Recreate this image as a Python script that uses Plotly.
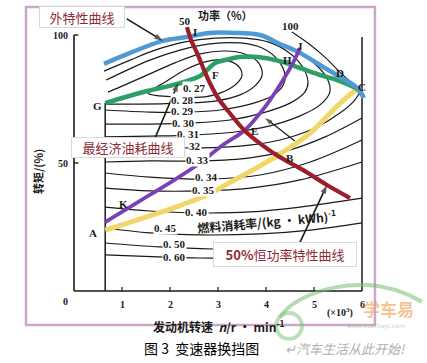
import plotly.graph_objects as go

# ---------------- data (x: engine speed x10^3 r/min, y: torque %) ----------------
blue_x = [0.625, 1.17, 1.85, 2.35, 2.83, 3.31, 3.875, 4.29, 4.71, 5.125, 5.54, 5.90, 6.04]
blue_y = [88.7, 93.0, 97.7, 99.2, 100.8, 100.8, 100.0, 96.5, 93.0, 88.3, 83.6, 79.3, 75.4]

green_x = [0.65, 1.52, 2.15, 2.625, 2.77, 2.94, 3.15, 3.46, 3.83, 4.29, 4.71, 5.125, 5.54, 5.90, 6.02]
green_y = [73.4, 78.1, 80.9, 84.0, 86.3, 89.1, 90.2, 91.4, 91.4, 89.8, 87.1, 84.4, 82.0, 78.9, 76.2]

red_x = [2.354, 2.44, 2.5625, 2.71, 2.83, 3.0, 3.21, 3.5625, 3.92, 4.29, 4.77, 5.27, 5.75]
red_y = [103.1, 98.0, 93.0, 86.3, 81.25, 75.4, 70.3, 62.5, 57.0, 52.3, 47.3, 41.4, 36.3]

purple_x = [0.65, 1.375, 2.06, 2.625, 3.10, 3.5625, 3.98, 4.29, 4.54, 4.71]
purple_y = [26.95, 35.2, 43.0, 50.0, 57.0, 62.9, 71.9, 80.5, 88.3, 94.9]

yellow_x = [0.65, 1.375, 2.06, 2.77, 3.31, 3.83, 4.29, 4.92, 5.40, 5.69, 5.96]
yellow_y = [23.8, 28.1, 32.4, 37.5, 43.0, 48.4, 53.5, 61.7, 70.7, 75.8, 79.7]

power100_x = [4.54, 4.9, 5.25, 5.6, 5.85]
power100_y = [101.2, 96.5, 91.0, 84.4, 80.5]

# fuel consumption contours (kg/kWh)
c027_x = [1.54, 1.79, 2.21, 2.73, 3.15, 3.42, 3.5, 3.42, 3.15, 2.73, 2.31, 1.90, 1.54]
c027_y = [77.3, 76.2, 75.8, 75.8, 78.1, 81.6, 84.4, 87.9, 90.2, 89.5, 86.3, 81.6, 77.3]
c028_x = [0.65, 1.375, 2.21, 2.94, 3.46, 3.77, 3.92, 3.83, 3.56, 3.15, 2.625, 2.10, 1.58, 1.06, 0.71]
c028_y = [73.0, 73.0, 73.4, 74.2, 76.6, 80.1, 84.4, 89.5, 92.6, 93.75, 92.6, 89.1, 84.8, 80.5, 77.7]
c029_x = [0.65, 1.58, 2.31, 3.04, 3.67, 4.125, 4.35, 4.40, 4.25, 3.92, 3.46, 2.83, 2.21, 1.58, 1.06, 0.67]
c029_y = [70.7, 69.9, 69.9, 70.7, 73.0, 76.2, 80.1, 84.0, 90.2, 94.9, 96.9, 96.5, 94.1, 90.2, 85.9, 82.4]
c030_x = [0.65, 1.58, 2.42, 3.25, 3.92, 4.5, 4.81, 4.875, 4.75, 4.46, 4.04, 3.56, 2.94, 2.31, 1.69, 1.17, 0.625]
c030_y = [65.2, 65.2, 65.6, 66.8, 69.5, 73.4, 77.7, 81.6, 87.9, 93.4, 97.3, 98.8, 98.8, 97.3, 94.1, 90.2, 85.9]
c031_x = [0.65, 1.58, 2.42, 3.35, 4.08, 4.71, 5.125, 5.33, 5.27, 5.02, 4.71, 4.54]
c031_y = [60.2, 60.5, 60.9, 62.1, 64.5, 68.4, 72.7, 77.7, 83.2, 88.7, 92.6, 94.9]
c032_x = [0.65, 1.58, 2.52, 3.46, 4.29, 5.02, 5.54, 5.85, 5.98]
c032_y = [55.9, 55.9, 55.9, 56.6, 59.0, 63.7, 69.5, 74.6, 78.5]
c033_x = [0.65, 1.58, 2.69, 3.67, 4.5, 5.23, 6.0]
c033_y = [50.4, 50.8, 50.8, 52.0, 55.1, 60.2, 67.6]
c034_x = [0.65, 1.58, 2.83, 3.875, 4.92, 6.0]
c034_y = [46.1, 44.5, 43.75, 45.3, 50.4, 59.0]
c035_x = [0.65, 1.58, 2.625, 3.67, 4.71, 6.0]
c035_y = [40.2, 39.1, 39.1, 40.2, 43.4, 50.4]
c040_x = [0.65, 1.58, 2.56, 3.67, 4.71, 6.0]
c040_y = [32.8, 31.25, 30.5, 30.9, 32.8, 36.3]
c045_x = [0.65, 1.58, 2.625, 3.875, 4.92, 6.0]
c045_y = [24.6, 22.7, 21.9, 22.3, 23.8, 26.6]
c050_x = [0.65, 1.79, 2.90, 3.46]
c050_y = [18.75, 17.2, 16.4, 16.4]
c060_x = [0.65, 1.75, 2.625, 3.25]
c060_y = [14.1, 13.3, 12.9, 12.9]

contour_labels = ["0. 27", "0. 28", "0. 29", "0. 30", "0. 31", "32", "0. 33",
                  "0. 34", "0. 35", "0. 40", "0. 45", "0. 50", "0. 60"]
contour_label_x = [2.50, 2.25, 2.25, 2.29, 2.375, 2.52, 2.58, 2.77, 2.69, 2.56, 1.90, 2.10, 2.10]
contour_label_y = [79.3, 74.6, 70.3, 65.6, 61.3, 56.6, 51.2, 44.5, 39.5, 30.9, 24.6, 18.4, 13.3]

point_names = ["A", "B", "C", "D", "E", "F", "G", "H", "I", "J", "K"]
point_x = [0.40, 4.50, 6.00, 5.54, 3.77, 2.94, 0.48, 4.44, 2.52, 4.71, 1.04]
point_y = [22.7, 52.0, 79.7, 85.2, 62.5, 84.4, 72.3, 90.2, 101.2, 95.8, 34.0]

x_ticks = [1, 2, 3, 4, 5, 6]
y_ticks = [50, 100]
idle_speed = 0.65
max_speed = 6.0

# ---------------- figure ----------------
fig = go.Figure()
BLACK = "#1a1a1a"
contours = [(c027_x, c027_y), (c028_x, c028_y), (c029_x, c029_y), (c030_x, c030_y),
            (c031_x, c031_y), (c032_x, c032_y), (c033_x, c033_y), (c034_x, c034_y),
            (c035_x, c035_y), (c040_x, c040_y), (c045_x, c045_y), (c050_x, c050_y),
            (c060_x, c060_y)]
for cx, cy in contours:
    fig.add_trace(go.Scatter(x=cx, y=cy, mode="lines", line=dict(color=BLACK, width=1.2, shape="spline"),
                             hoverinfo="skip", showlegend=False))

fig.add_trace(go.Scatter(x=power100_x, y=power100_y, mode="lines",
                         line=dict(color=BLACK, width=1.1, shape="spline"), showlegend=False))

# axes lines
fig.add_trace(go.Scatter(x=[0, 0], y=[0, 100], mode="lines", line=dict(color=BLACK, width=1.6), showlegend=False))
fig.add_trace(go.Scatter(x=[0, max_speed], y=[0, 0], mode="lines", line=dict(color=BLACK, width=1.6), showlegend=False))
fig.add_trace(go.Scatter(x=[idle_speed, idle_speed], y=[0, green_y[0]], mode="lines",
                         line=dict(color=BLACK, width=1.5), showlegend=False))
fig.add_trace(go.Scatter(x=[max_speed, max_speed], y=[0, 99.2], mode="lines",
                         line=dict(color=BLACK, width=1.5), showlegend=False))
for t in x_ticks[:-1]:
    fig.add_trace(go.Scatter(x=[t, t], y=[0, 1.6], mode="lines", line=dict(color=BLACK, width=1.2), showlegend=False))
for t in y_ticks:
    fig.add_trace(go.Scatter(x=[0, 0.09], y=[t, t], mode="lines", line=dict(color=BLACK, width=1.4), showlegend=False))


def arrow(x0, y0, x1, y1, width, size):
    fig.add_trace(go.Scatter(x=[x0, x1], y=[y0, y1], mode="lines+markers",
                             line=dict(color=BLACK, width=width),
                             marker=dict(symbol=["circle", "arrow"], size=[0, size], angleref="previous",
                                         color=BLACK, line=dict(width=0)),
                             hoverinfo="skip", showlegend=False))


# direction arrow inside map
arrow(4.6, 58.6, 3.98, 67.6, 1.2, 8)

# coloured characteristic curves
fig.add_trace(go.Scatter(x=yellow_x, y=yellow_y, mode="lines", line=dict(color="#f2d66a", width=5, shape="spline"), showlegend=False))
fig.add_trace(go.Scatter(x=green_x, y=green_y, mode="lines", line=dict(color="#2ba066", width=4.6, shape="spline"), showlegend=False))
fig.add_trace(go.Scatter(x=blue_x, y=blue_y, mode="lines", line=dict(color="#4f9ad4", width=4.5, shape="spline"), showlegend=False))
fig.add_trace(go.Scatter(x=purple_x, y=purple_y, mode="lines", line=dict(color="#7b40b4", width=3.8, shape="spline"), showlegend=False))
fig.add_trace(go.Scatter(x=red_x, y=red_y, mode="lines", line=dict(color="#9b1f2b", width=4.2, shape="spline"), showlegend=False))

# callout arrows
arrow(1.10, 106.3, 1.854, 97.7, 1.6, 9)
arrow(1.69, 59.8, 2.17, 81.25, 1.6, 9)
arrow(4.71, 19.1, 5.27, 41.4, 1.6, 9)

ann = []
SERIF = "Liberation Serif"
CJK = "Noto Sans CJK SC"
for lab, lx, ly in zip(contour_labels, contour_label_x, contour_label_y):
    ann.append(dict(x=lx, y=ly, text="<b>%s</b>" % lab, showarrow=False, bgcolor="white", borderpad=0,
                    font=dict(family=SERIF, size=11, color=BLACK)))
for n, px, py in zip(point_names, point_x, point_y):
    ann.append(dict(x=px, y=py, text="<b>%s</b>" % n, showarrow=False,
                    font=dict(family=SERIF, size=11, color=BLACK)))

# tick labels
for t in x_ticks:
    ann.append(dict(x=t, y=-2.4, text="<b>%d</b>" % t, showarrow=False, yanchor="top",
                    font=dict(family=SERIF, size=10, color=BLACK)))
for t in y_ticks:
    ann.append(dict(x=-0.08, y=t, text="<b>%d</b>" % t, showarrow=False, xanchor="right",
                    font=dict(family=SERIF, size=10, color=BLACK)))
ann.append(dict(x=-0.08, y=-1.0, text="<b>0</b>", showarrow=False, xanchor="right", yanchor="top",
                font=dict(family=SERIF, size=10, color=BLACK)))
ann.append(dict(x=5.55, y=-5.0, text="<b>(×10<sup>3</sup>)</b>", showarrow=False, yanchor="top",
                font=dict(family=SERIF, size=10, color=BLACK)))
ann.append(dict(x=3.0, y=-9.3, text="<b>发动机转速  <i>n</i>/r · min<sup>-1</sup></b>", showarrow=False,
                yanchor="top", font=dict(family=CJK, size=12, color=BLACK)))
ann.append(dict(x=-0.75, y=46.5, text="<b>转矩/(%)</b>", showarrow=False, textangle=-90,
                font=dict(family=CJK, size=11, color=BLACK)))
ann.append(dict(x=3.15, y=107.8, text="<b>功率（%）</b>", showarrow=False,
                font=dict(family=CJK, size=11, color=BLACK)))
ann.append(dict(x=2.31, y=105.3, text="<b>50</b>", showarrow=False,
                font=dict(family=SERIF, size=11, color=BLACK)))
ann.append(dict(x=4.50, y=103.6, text="<b>100</b>", showarrow=False,
                font=dict(family=SERIF, size=11, color=BLACK)))
ann.append(dict(x=4.0, y=27.4, text="<b>燃料消耗率/(kg · kWh)<sup>-1</sup></b>", showarrow=False, textangle=-5,
                font=dict(family=CJK, size=12, color=BLACK)))

# callout boxes
DARKRED = "#8e2b36"
ann.append(dict(x=0.17, y=107.0, text="外特性曲线", showarrow=False, width=82, height=18,
                bgcolor="white", bordercolor="#d9d9d9", borderwidth=1,
                font=dict(family=CJK, size=13, color=DARKRED)))
ann.append(dict(x=1.125, y=56.2, text="最经济油耗曲线", showarrow=False, width=110, height=17,
                bgcolor="white", bordercolor="#d9d9d9", borderwidth=1,
                font=dict(family=CJK, size=13, color=DARKRED)))
ann.append(dict(x=4.40, y=14.4, text="<b>50%</b>恒功率特性曲线", showarrow=False, width=140, height=21,
                bgcolor="white", bordercolor="#d9d9d9", borderwidth=1,
                font=dict(family=CJK, size=13, color=DARKRED)))

# caption and watermark
ann.append(dict(x=2.65, y=-22.4, text="图 3  变速器换挡图", showarrow=False,
                font=dict(family=CJK, size=14, color="black")))
ann.append(dict(x=5.65, y=-22.6, text="<i>↵汽车生活从此开始!</i>", showarrow=False,
                font=dict(family=CJK, size=13, color="#b0b0b0")))
ann.append(dict(x=6.55, y=-7.0, text="<b>学车易</b>", showarrow=False, opacity=0.6,
                font=dict(family=CJK, size=17, color="#f0a050")))
ann.append(dict(x=6.3, y=-13.8, text="www.xuecheyi.com", showarrow=False, opacity=0.6,
                font=dict(family="DejaVu Sans", size=6, color="#8cc48c")))

shapes = [
    dict(type="rect", xref="x", yref="y", x0=-1.0, x1=6.27, y0=-13.3, y1=110.9,
         line=dict(color="#cda6cc", width=2.5), layer="below"),
    dict(type="path", xref="x", yref="y",
         path="M 4.29,-10.2 C 4.5,-4 5.2,3 6.1,2.3 C 6.6,1.8 7.0,-1.5 7.25,-4.3",
         line=dict(color="rgba(120,190,120,0.55)", width=4), layer="above"),
    dict(type="circle", xref="x", yref="y", x0=4.21, x1=4.75, y0=-18.7, y1=-8.6,
         line=dict(color="rgba(120,190,120,0.5)", width=4), layer="above"),
]

fig.update_layout(
    width=427, height=363, autosize=False,
    margin=dict(l=0, r=0, t=0, b=0, pad=0),
    paper_bgcolor="white", plot_bgcolor="white",
    xaxis=dict(range=[-74 / 48, (427 - 74) / 48], visible=False, fixedrange=True),
    yaxis=dict(range=[-(363 - 291) / 2.56, 291 / 2.56], visible=False, fixedrange=True),
    annotations=ann, shapes=shapes, showlegend=False,
)
fig.write_html("out.html", config={"displayModeBar": False},
               post_script="document.body.style.margin='0';document.body.style.overflow='hidden';")
